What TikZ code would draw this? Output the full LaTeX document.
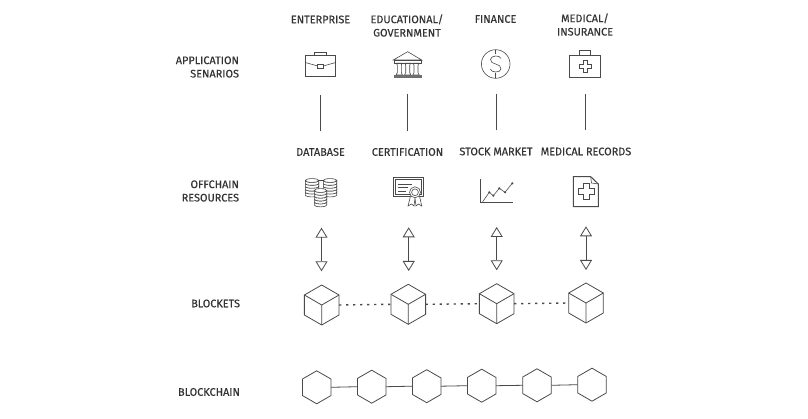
\documentclass[tikz,border=0pt]{standalone}
\usepackage{fontspec}
\setmainfont[FakeBold=0.25]{Fira Sans}
\usetikzlibrary{shapes.geometric,arrows.meta}
\definecolor{ink}{HTML}{4A4A4A}
\definecolor{txt}{HTML}{333333}
\tikzset{
  lbl/.style={font=\fontsize{10.9}{13.4}\selectfont,text=txt,inner sep=0,outer sep=0,align=center},
  side/.style={lbl,align=right,anchor=east},
  ln/.style={draw=ink,line width=0.8pt},
  thin line/.style={draw=ink,line width=0.6pt},
  hexa/.style={regular polygon,regular polygon sides=6,shape border rotate=30,draw=ink,line width=0.8pt,minimum size=33pt,inner sep=0,outer sep=0,fill=white},
  cubeb/.style={regular polygon,regular polygon sides=6,shape border rotate=30,draw=ink,line width=0.8pt,minimum size=40pt,inner sep=0,outer sep=0,fill=white},
  biarrow/.style={ln,{Triangle[open,length=10pt,width=12pt]}-{Triangle[open,length=10pt,width=12pt]}},
  disc/.style={draw=ink,line width=0.6pt,fill=white},
  pics/stack/.style={code={
    \foreach \k in {0,1,2,3,4}{
      \path[disc] (-#1,-\k*2.9-2.9) -- (-#1,-\k*2.9) .. controls (-#1,-\k*2.9+2.5) and (#1,-\k*2.9+2.5) .. (#1,-\k*2.9) -- (#1,-\k*2.9-2.9) .. controls (#1,-\k*2.9-0.4) and (-#1,-\k*2.9-0.4) .. cycle;
    }
    \path[disc] (0,-14.5) ellipse[x radius=#1,y radius=1.9];
  }}
}
\begin{document}
\begin{tikzpicture}[x=1pt,y=-1pt]
\useasboundingbox[fill=white] (0,0) rectangle (808,419);
% labels
\node[lbl] (t1) at (320.5,19.5) {ENTERPRISE};
\node[lbl] (t2) at (407,25.5) {EDUCATIONAL/\\GOVERNMENT};
\node[lbl] (t3) at (495.5,19) {FINANCE};
\node[lbl] (t4) at (585,24.5) {MEDICAL/\\INSURANCE};
\node[lbl] (m1) at (320.5,152) {DATABASE};
\node[lbl] (m2) at (407.5,152) {CERTIFICATION};
\node[lbl] (m3) at (496,151.5) {STOCK MARKET};
\node[lbl] (m4) at (586,151.5) {MEDICAL RECORDS};
\node[side] (s1) at (239,67) {APPLICATION\\SENARIOS};
\node[side] (s2) at (239,191) {OFFCHAIN\\RESOURCES};
\node[side] (s3) at (240,303.5) {BLOCKETS};
\node[side] (s4) at (240,392) {BLOCKCHAIN};
% briefcase
\draw[thin line] (305.3,55.7) rectangle (335.7,76.7);
\draw[thin line] (314,55.7) -- (314,52.7) -- (326.7,52.7) -- (326.7,55.7);
\draw[thin line] (305.3,62.5) -- (317.7,66) (323.3,66) -- (335.7,62.5);
\draw[thin line] (317.7,64) rectangle (323.3,68.7);
% bank
\draw[thin line] (393.3,60) -- (407.7,51.7) -- (421.7,60) -- cycle;
\draw[thin line] (394,60) rectangle (421.5,63.3);
\foreach \cx in {399.3,407.7,416}{
  \draw[thin line] (\cx-3,63.3) -- (\cx+3,63.3) -- (\cx+2,65) -- (\cx+2,72.5) -- (\cx+3.2,75) -- (\cx-3.2,75) -- (\cx-2,72.5) -- (\cx-2,65) -- cycle;
}
\fill[ink!80] (394,75) rectangle (421.7,78.3);
% dollar
\draw[thin line] (495.7,64) circle[radius=14.3];
\draw[thin line] (501,58.5) .. controls (500,55) and (491,55) .. (490.5,59.5) .. controls (490,65) and (501.5,63) .. (501,69) .. controls (500.5,73) and (491,73) .. (490.3,69);
\draw[thin line] (495.7,49.7) -- (495.7,54.5) (495.7,73) -- (495.7,78.3);
% medical kit
\draw[thin line] (569.7,55.3) rectangle (600.7,77.7);
\draw[thin line] (579.3,55.3) -- (579.3,50.7) -- (590.7,50.7) -- (590.7,55.3);
\draw[thin line] (583,60) -- (587,60) -- (587,64) -- (591,64) -- (591,68) -- (587,68) -- (587,72) -- (583,72) -- (583,68) -- (579,68) -- (579,64) -- (583,64) -- cycle;
% database
\draw[thin line] (318,180) -- (324,180);
\pic at (312,195) {stack=6.7};
\pic at (330,195) {stack=6.7};
\pic at (320.5,205) {stack=6.2};
% certificate
\draw[ln] (393.3,177.3) rectangle (423.3,196.7);
\draw[thin line] (395.5,179.5) rectangle (421.2,194.5);
\draw[thin line] (398,184) -- (412,184) (398,187.5) -- (408,187.5) (398,191) -- (406,191);
\draw[thin line,fill=white] (410.5,196) -- (408,206) -- (411.5,204) -- (414,206) -- (415,198) -- (416,206) -- (418.5,204) -- (421.7,206) -- (419.5,196) -- cycle;
\draw[thin line,fill=white] (415,192.3) circle[radius=5.5];
\draw[thin line] (415,192.3) circle[radius=3.4];
% chart
\draw[ln] (480,179) -- (480,202.7) -- (512.7,202.7);
\draw[thin line] (482.7,201.7) -- (489.3,192.3) -- (493.3,195.7) -- (499.3,188.3) -- (505,192.3) -- (512.3,183.3);
\foreach \q in {(489.3,192.3),(493.3,195.7),(499.3,188.3),(505,192.3),(512.3,183.3)}{\fill[ink] \q circle[radius=1.2];}
% record
\draw[ln,line width=1pt] (573.3,176.7) -- (590.7,176.7) -- (598.3,184) -- (598.3,206.7) -- (573.3,206.7) -- cycle;
\draw[thin line] (590.7,176.7) -- (591.5,183) -- (598.3,184);
\draw[thin line] (583,183.7) -- (589,183.7) -- (589,188.7) -- (594,188.7) -- (594,194.7) -- (589,194.7) -- (589,199.7) -- (583,199.7) -- (583,194.7) -- (578,194.7) -- (578,188.7) -- (583,188.7) -- cycle;
% coordinates of connector ends
\coordinate (a1) at (320.7,95); \coordinate (b1) at (320.7,131);
\coordinate (a2) at (407.7,94); \coordinate (b2) at (407.7,131);
\coordinate (a3) at (496,94);   \coordinate (b3) at (496,130);
\coordinate (a4) at (585.3,94); \coordinate (b4) at (585.3,130);
\coordinate (c1) at (321.5,227.7); \coordinate (d1) at (321.5,271.3);
\coordinate (c2) at (408.7,227.3); \coordinate (d2) at (408.7,271);
\coordinate (c3) at (496.7,227);   \coordinate (d3) at (496.7,270.3);
\coordinate (c4) at (586,226.3);   \coordinate (d4) at (586,270);
\foreach \i in {1,2,3,4}{
  \draw[ln] (a\i) -- (b\i);
  \draw[biarrow] (c\i) -- (d\i);
}
% cubes
\node[cubeb] (k1) at (321.7,305) {};
\node[cubeb] (k2) at (408.3,304.3) {};
\node[cubeb] (k3) at (496.7,303.7) {};
\node[cubeb] (k4) at (586,303) {};
\foreach \i in {1,2,3,4}{
  \draw[ln] (k\i.center) -- (k\i.corner 2) (k\i.center) -- (k\i.corner 6) (k\i.center) -- (k\i.corner 4);
}
\foreach \i/\j in {1/2,2/3,3/4}{
  \draw[ink,line width=1.4pt,dash pattern=on 2.3pt off 4.7pt] (k\i.east) -- (k\j.west);
}
% hexagons
\node[hexa] (h1) at (316.7,387.3) {};
\node[hexa] (h2) at (371.7,386.7) {};
\node[hexa] (h3) at (426.7,386.2) {};
\node[hexa] (h4) at (481.7,385.7) {};
\node[hexa] (h5) at (537,385.3) {};
\node[hexa] (h6) at (592,384.7) {};
\foreach \i/\j in {1/2,2/3,3/4,4/5,5/6}{
  \draw[ink,line width=0.8pt] (h\i.east) -- (h\j.west);
}
\end{tikzpicture}
\end{document}
